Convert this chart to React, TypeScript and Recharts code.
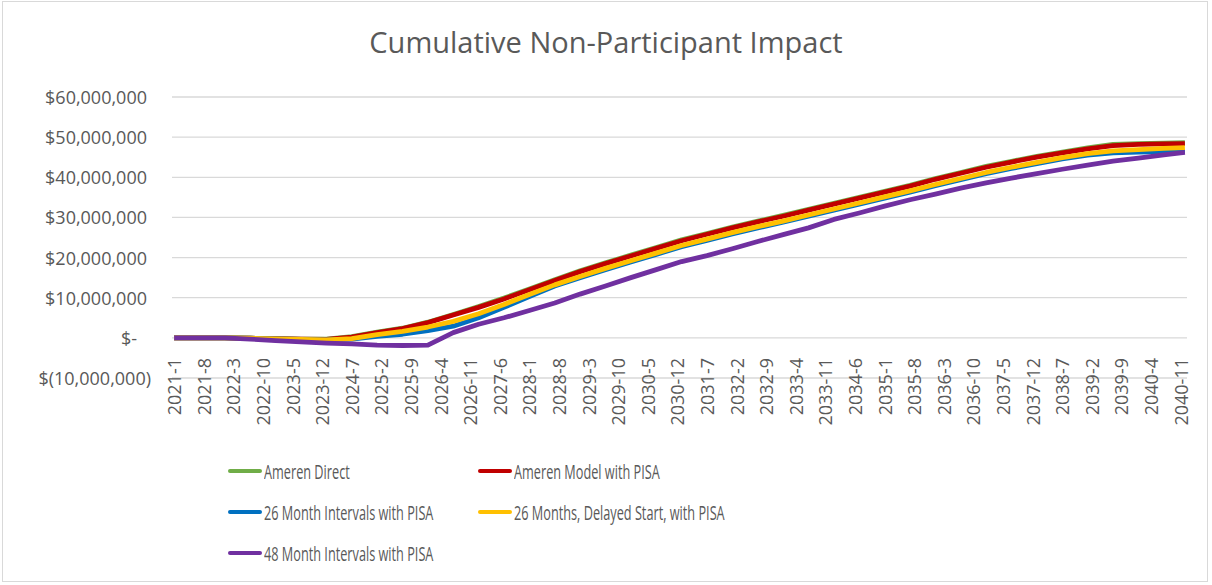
import React from "react";
import { LineChart, Line, XAxis, YAxis, CartesianGrid } from "recharts";

// sampled months (every 6 months + last month), values in $ millions
const sampleMonths = [
  "2021-1", "2021-7", "2022-1", "2022-7", "2023-1", "2023-7", "2024-1", "2024-7",
  "2025-1", "2025-7", "2026-1", "2026-7", "2027-1", "2027-7", "2028-1", "2028-7",
  "2029-1", "2029-7", "2030-1", "2030-7", "2031-1", "2031-7", "2032-1", "2032-7",
  "2033-1", "2033-7", "2034-1", "2034-7", "2035-1", "2035-7", "2036-1", "2036-7",
  "2037-1", "2037-7", "2038-1", "2038-7", "2039-1", "2039-7", "2040-1", "2040-7",
  "2040-12",
];

const amerenDirect = [
  0, 0, 0, -0.1, -0.2, -0.3, -0.3, 0.3, 1.4, 2.4, 3.9, 5.8, 7.8, 9.9, 12.2, 14.5,
  16.7, 18.7, 20.6, 22.5, 24.4, 26.0, 27.6, 29.1, 30.5, 32.0, 33.5, 35.0, 36.5, 38.0,
  39.7, 41.2, 42.7, 44.0, 45.2, 46.3, 47.3, 48.2, 48.4, 48.5, 48.6,
];
const amerenModel = [
  0, 0, 0, -0.1, -0.2, -0.35, -0.4, 0.2, 1.3, 2.3, 3.8, 5.7, 7.6, 9.7, 12.0, 14.3,
  16.5, 18.5, 20.4, 22.3, 24.2, 25.8, 27.4, 28.9, 30.3, 31.8, 33.3, 34.8, 36.3, 37.8,
  39.5, 41.0, 42.5, 43.8, 45.0, 46.1, 47.1, 47.9, 48.2, 48.3, 48.4,
];
const intervals26 = [
  0, 0, 0, -0.1, -0.25, -0.4, -0.5, -0.3, 0.4, 0.9, 1.8, 2.9, 5.0, 7.6, 10.3, 12.9,
  15.0, 17.0, 18.9, 20.8, 22.7, 24.3, 25.9, 27.4, 28.8, 30.3, 31.8, 33.3, 34.8, 36.3,
  37.9, 39.4, 40.9, 42.2, 43.4, 44.6, 45.5, 46.1, 46.3, 46.4, 46.4,
];
const delayed26 = [
  0, 0, 0, -0.1, -0.25, -0.4, -0.5, -0.2, 0.8, 1.6, 2.7, 4.1, 6.0, 8.3, 10.8, 13.2,
  15.3, 17.3, 19.2, 21.1, 23.0, 24.6, 26.2, 27.7, 29.1, 30.6, 32.1, 33.6, 35.1, 36.6,
  38.2, 39.7, 41.2, 42.5, 43.7, 44.9, 45.9, 46.6, 46.9, 47.2, 47.4,
];
const intervals48 = [
  0, 0, 0, -0.3, -0.7, -1.0, -1.3, -1.5, -1.8, -1.9, -1.8, 1.3, 3.4, 5.0, 6.8, 8.7,
  10.9, 12.9, 15.0, 17.0, 19.0, 20.5, 22.2, 24.0, 25.7, 27.4, 29.5, 31.1, 32.8, 34.4,
  35.8, 37.3, 38.6, 39.8, 40.9, 42.0, 43.0, 44.0, 44.8, 45.6, 46.2,
];

const tickLabels = [
  "2021-1", "2021-8", "2022-3", "2022-10", "2023-5", "2023-12", "2024-7", "2025-2",
  "2025-9", "2026-4", "2026-11", "2027-6", "2028-1", "2028-8", "2029-3", "2029-10",
  "2030-5", "2030-12", "2031-7", "2032-2", "2032-9", "2033-4", "2033-11", "2034-6",
  "2035-1", "2035-8", "2036-3", "2036-10", "2037-5", "2037-12", "2038-7", "2039-2",
  "2039-9", "2040-4", "2040-11",
];
const yTicks = [-10, 0, 10, 20, 30, 40, 50, 60];

const monthIndex = (label: string) => {
  const [y, m] = label.split("-").map(Number);
  return (y - 2021) * 12 + (m - 1);
};

const data = sampleMonths.map((label, i) => ({
  m: monthIndex(label),
  direct: amerenDirect[i],
  model: amerenModel[i],
  int26: intervals26[i],
  delayed: delayed26[i],
  int48: intervals48[i],
}));

const series = [
  { key: "direct", name: "Ameren Direct", color: "#70AD47" },
  { key: "model", name: "Ameren Model with PISA", color: "#C00000" },
  { key: "int26", name: "26 Month Intervals with PISA", color: "#0070C0" },
  { key: "delayed", name: "26 Months, Delayed Start, with PISA", color: "#FFC000" },
  { key: "int48", name: "48 Month Intervals with PISA", color: "#7030A0" },
];

const FONT = "'Open Sans', sans-serif";
const TEXT = "#595959";

const labelByIndex: Record<number, string> = {};
tickLabels.forEach((l) => (labelByIndex[monthIndex(l)] = l));

function YTick(props: any) {
  const { x, y, payload } = props;
  const v = payload.value as number;
  let text = "$" + (Math.abs(v) * 1e6).toLocaleString("en-US");
  let dx = 0;
  if (v === 0) {
    text = "$-";
    dx = -10;
  } else if (v < 0) {
    text = "$(" + (Math.abs(v) * 1e6).toLocaleString("en-US") + ")";
    dx = 4;
  }
  return (
    <text x={x + dx} y={y} textAnchor="end" dominantBaseline="central" fill={TEXT} fontSize={18} fontFamily={FONT}>
      {text}
    </text>
  );
}

function XTick(props: any) {
  const { x, y, payload } = props;
  const ay = y - 20;
  return (
    <text
      x={x}
      y={ay}
      transform={`rotate(-90, ${x}, ${ay})`}
      textAnchor="end"
      dominantBaseline="central"
      fill={TEXT}
      fontSize={18}
      fontFamily={FONT}
    >
      {labelByIndex[payload.value] ?? ""}
    </text>
  );
}

function LegendItem({ name, color, left, top }: { name: string; color: string; left: number; top: number }) {
  return (
    <div style={{ position: "absolute", left, top, height: 24, display: "flex", alignItems: "center" }}>
      <span style={{ width: 34, height: 4, background: color, borderRadius: 2, display: "inline-block" }} />
      <span
        style={{
          marginLeft: 2,
          fontFamily: FONT,
          fontSize: 20.5,
          color: TEXT,
          whiteSpace: "nowrap",
          display: "inline-block",
          transform: "scaleX(0.62)",
          transformOrigin: "left center",
        }}
      >
        {name}
      </span>
    </div>
  );
}

export default function App() {
  const legendPos = [
    { left: 228, top: 459 },
    { left: 478, top: 459 },
    { left: 228, top: 500 },
    { left: 478, top: 500 },
    { left: 228, top: 541 },
  ];
  return (
    <div style={{ position: "relative", width: 1212, height: 585, background: "#fff" }}>
      <style>{`body{margin:0;}`}</style>
      <div
        style={{
          position: "absolute",
          left: 2,
          top: 1,
          width: 1206,
          height: 581,
          border: "1px solid #d9d9d9",
          boxSizing: "border-box",
        }}
      />
      <div
        style={{
          position: "absolute",
          left: 0,
          width: 1212,
          top: 22,
          textAlign: "center",
          fontFamily: FONT,
          fontSize: 29,
          color: TEXT,
          lineHeight: "40px",
        }}
      >
        Cumulative Non-Participant Impact
      </div>
      <div style={{ position: "absolute", left: 0, top: 0 }}>
        <LineChart width={1212} height={585} data={data} margin={{ top: 97, right: 25, left: 0, bottom: 0 }}>
          <CartesianGrid horizontal vertical={false} stroke="#d9d9d9" strokeWidth={1.3} />
          <XAxis
            dataKey="m"
            type="number"
            domain={[-0.5, 239.5]}
            ticks={tickLabels.map(monthIndex)}
            interval={0}
            axisLine={false}
            tickLine={false}
            tickSize={0}
            tickMargin={0}
            height={207}
            tick={<XTick />}
          />
          <YAxis
            type="number"
            domain={[-10, 60]}
            ticks={yTicks}
            interval={0}
            axisLine={false}
            tickLine={false}
            tickSize={0}
            tickMargin={25}
            width={172}
            tick={<YTick />}
          />
          {series.map((s) => (
            <Line
              key={s.key}
              type="linear"
              dataKey={s.key}
              name={s.name}
              stroke={s.color}
              strokeWidth={4.8}
              strokeLinejoin="round"
              dot={false}
              activeDot={false}
              isAnimationActive={false}
            />
          ))}
        </LineChart>
      </div>
      {series.map((s, i) => (
        <LegendItem key={s.key} name={s.name} color={s.color} left={legendPos[i].left} top={legendPos[i].top} />
      ))}
    </div>
  );
}
